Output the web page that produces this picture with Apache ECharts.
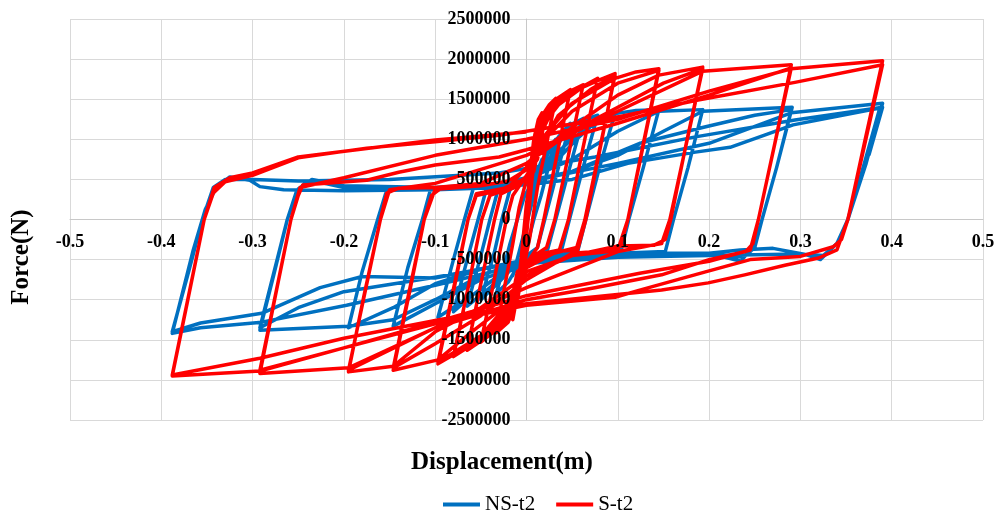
<!DOCTYPE html>
<html>
<head>
<meta charset="utf-8">
<script src="https://cdn.jsdelivr.net/npm/echarts@6/dist/echarts.min.js"></script>
<style>
body{
	margin:0;
	background:#fff;
}
#chart{
	width:995px;
	height:512px;
}
</style>
</head>
<body>
<div id="chart"></div>
<script type="text/javascript">
// axis ranges
var xMin = -0.5, xMax = 0.5, xStep = 0.1;
var yMin = -2500000, yMax = 2500000, yStep = 500000;
var seriesNames = ['NS-t2', 'S-t2'];

// NS-t2 hysteresis, [displacement m, force N]
var nsT2 = [
	[0,0],[0.004,300000],[0.01,550000],[0.017,750000],
	[0.01,450000],[0.003,100000],[-0.004,-250000],[-0.01,-500000],[-0.015,-700000],
	[-0.008,-400000],[0,-50000],[0.007,250000],[0.014,550000],[0.02,800000],
	[0.032,1000000],
	[0.024,650000],[0.016,300000],[0.008,0],[0,-350000],[-0.008,-550000],[-0.02,-780000],[-0.033,-920000],
	[-0.025,-600000],[-0.018,-300000],[-0.01,0],[-0.002,300000],[0.008,480000],[0.02,750000],[0.035,1030000],
	[0.048,1200000],
	[0.035,650000],[0.02,0],[0.012,-350000],[0,-450000],[-0.015,-600000],[-0.03,-780000],[-0.05,-1000000],
	[-0.035,-400000],[-0.027,0],[-0.018,380000],[0,460000],[0.015,580000],[0.03,850000],[0.048,1180000],[0.062,1260000],
	[0.045,550000],[0.032,0],[0.023,-380000],[0,-480000],[-0.02,-620000],[-0.04,-850000],[-0.065,-1080000],
	[-0.05,-450000],[-0.04,0],[-0.031,380000],[-0.01,430000],[0.01,520000],[0.03,750000],[0.05,1050000],[0.065,1250000],[0.078,1300000],
	[0.062,650000],[0.047,0],[0.038,-400000],[0.01,-450000],[-0.015,-580000],[-0.04,-780000],[-0.06,-950000],[-0.08,-1150000],
	[-0.065,-500000],[-0.053,0],[-0.044,380000],[-0.02,420000],[0,480000],[0.03,700000],[0.055,1000000],[0.08,1260000],[0.097,1330000],
	[0.08,650000],[0.065,0],[0.056,-400000],[0.03,-450000],[0,-550000],[-0.03,-700000],[-0.06,-950000],[-0.097,-1220000],
	[-0.08,-500000],[-0.068,0],[-0.058,400000],[-0.03,450000],[0,520000],[0.02,700000],[0.05,1000000],[0.075,1200000],[0.097,1320000],
	[0.12,1360000],[0.145,1370000],
	[0.128,650000],[0.112,0],[0.103,-420000],[0.05,-450000],[0,-550000],[-0.05,-750000],[-0.1,-1050000],[-0.146,-1330000],
	[-0.13,-600000],[-0.114,0],[-0.105,380000],[-0.05,420000],[0,500000],[0.05,750000],[0.1,1100000],[0.145,1350000],
	[0.193,1370000],
	[0.177,650000],[0.161,0],[0.152,-400000],[0.1,-420000],[0,-500000],[-0.05,-620000],[-0.1,-800000],[-0.146,-1100000],[-0.195,-1350000],
	[-0.18,-650000],[-0.163,0],[-0.153,370000],[-0.1,380000],[0,480000],[0.05,600000],[0.1,800000],[0.15,1100000],[0.193,1350000],
	[0.291,1400000],
	[0.274,650000],[0.258,0],[0.25,-300000],[0.235,-520000],[0.2,-420000],[0.124,-420000],[0,-500000],[-0.05,-700000],[-0.1,-1000000],[-0.146,-1250000],[-0.195,-1330000],[-0.292,-1380000],
	[-0.277,-700000],[-0.262,0],[-0.252,350000],[-0.24,480000],[-0.225,460000],[-0.2,400000],[-0.1,380000],[0,450000],[0.05,600000],[0.124,950000],[0.194,1150000],[0.25,1300000],[0.29,1370000],
	[0.274,650000],[0.258,0],[0.25,-350000],[0.238,-470000],[0.2,-430000],[0.1,-440000],[0,-520000],[-0.1,-720000],[-0.2,-900000],[-0.25,-1100000],[-0.292,-1350000],
	[-0.262,0],[-0.25,380000],[-0.235,500000],[-0.2,420000],[-0.1,400000],[0,470000],[0.1,700000],[0.2,950000],[0.29,1330000],
	[0.39,1450000],
	[0.372,700000],[0.352,0],[0.34,-300000],[0.325,-450000],[0.3,-430000],[0.2,-450000],[0.1,-470000],[0,-550000],[-0.1,-820000],[-0.197,-1070000],[-0.29,-1280000],[-0.357,-1350000],[-0.388,-1420000],
	[-0.365,-380000],[-0.352,120000],[-0.34,400000],[-0.325,530000],[-0.303,490000],[-0.292,410000],[-0.266,370000],[-0.2,360000],[-0.1,370000],[-0.03,400000],[0.05,500000],[0.111,700000],[0.185,840000],[0.223,900000],[0.26,1050000],[0.292,1180000],[0.36,1330000],[0.387,1390000],
	[0.37,700000],[0.352,0],[0.34,-300000],[0.322,-500000],[0.307,-440000],[0.27,-360000],[0.234,-380000],[0.2,-420000],[0.124,-430000],[0,-500000],[-0.1,-730000],[-0.18,-710000],[-0.226,-850000],[-0.29,-1170000],[-0.357,-1290000],[-0.388,-1400000],
	[-0.37,-650000],[-0.355,0],[-0.343,400000],[-0.33,500000],[-0.3,500000],[-0.25,480000],[-0.15,500000],[-0.03,580000],[0.075,780000],[0.185,1030000],[0.294,1240000],[0.39,1400000],[0.375,800000]
];

// S-t2 hysteresis, [displacement m, force N]
var sT2 = [
	[0,0],[0.003,500000],[0.008,1000000],[0.013,1250000],[0.017,1330000],
	[0.008,800000],[0,200000],[-0.006,-500000],[-0.011,-1000000],[-0.015,-1250000],
	[-0.008,-800000],[0,-200000],[0.006,500000],[0.012,1000000],[0.018,1310000],
	[0.025,1430000],[0.032,1510000],
	[0.023,1000000],[0.012,400000],[0.004,-200000],[-0.003,-600000],[-0.01,-1000000],[-0.02,-1280000],[-0.033,-1410000],
	[-0.025,-900000],[-0.015,-300000],[-0.008,150000],[0,500000],[0.01,900000],[0.018,1250000],[0.03,1480000],
	[0.048,1620000],
	[0.035,900000],[0.019,0],[0.012,-350000],[0,-550000],[-0.008,-750000],[-0.015,-1080000],[-0.025,-1300000],[-0.05,-1530000],
	[-0.038,-900000],[-0.022,0],[-0.015,300000],[0,550000],[0.012,750000],[0.02,1250000],[0.032,1470000],[0.048,1600000],
	[0.062,1680000],
	[0.045,750000],[0.031,0],[0.022,-350000],[0.005,-480000],[-0.01,-650000],[-0.018,-1100000],[-0.035,-1400000],[-0.065,-1630000],
	[-0.05,-800000],[-0.035,0],[-0.028,320000],[-0.01,420000],[0.008,600000],[0.017,1100000],[0.03,1400000],[0.06,1650000],
	[0.078,1760000],
	[0.062,900000],[0.046,0],[0.036,-380000],[0.015,-430000],[-0.005,-600000],[-0.017,-1100000],[-0.04,-1420000],[-0.08,-1710000],
	[-0.063,-800000],[-0.049,0],[-0.04,300000],[-0.015,400000],[0.005,580000],[0.016,1150000],[0.035,1430000],[0.06,1640000],[0.08,1740000],
	[0.097,1820000],
	[0.08,850000],[0.065,0],[0.056,-380000],[0.03,-400000],[0,-550000],[-0.015,-1000000],[-0.04,-1380000],[-0.07,-1620000],[-0.097,-1800000],
	[-0.08,-900000],[-0.064,0],[-0.055,300000],[-0.03,360000],[0,520000],[0.015,900000],[0.035,1300000],[0.07,1620000],[0.097,1800000],
	[0.064,0],[0.055,-350000],[0.03,-420000],[0,-600000],[-0.02,-1050000],[-0.05,-1450000],[-0.097,-1780000],
	[-0.064,0],[-0.055,320000],[-0.02,400000],[0,650000],[0.02,1050000],[0.05,1450000],[0.097,1760000],
	[0.12,1840000],[0.145,1880000],
	[0.128,950000],[0.111,0],[0.103,-330000],[0.09,-400000],[0.05,-450000],[0,-650000],[-0.02,-1050000],[-0.06,-1400000],[-0.097,-1750000],[-0.146,-1880000],
	[-0.128,-900000],[-0.112,0],[-0.104,300000],[-0.095,380000],[-0.05,420000],[-0.02,480000],[0,620000],[0.02,1000000],[0.05,1350000],[0.1,1700000],[0.145,1860000],
	[0.111,0],[0.1,-380000],[0.05,-420000],[0,-750000],[-0.05,-1200000],[-0.1,-1550000],[-0.146,-1850000],
	[-0.112,0],[-0.1,380000],[-0.05,450000],[0,700000],[0.05,1150000],[0.1,1550000],[0.145,1800000],
	[0.193,1900000],
	[0.175,950000],[0.158,0],[0.152,-250000],[0.14,-320000],[0.1,-330000],[0.05,-450000],[0,-700000],[-0.05,-1100000],[-0.1,-1400000],[-0.146,-1830000],[-0.195,-1900000],
	[-0.178,-950000],[-0.16,0],[-0.153,330000],[-0.14,390000],[-0.1,400000],[-0.05,450000],[0,700000],[0.05,1100000],[0.1,1400000],[0.15,1700000],[0.193,1880000],
	[0.157,0],[0.148,-300000],[0.1,-400000],[0,-850000],[-0.1,-1350000],[-0.195,-1880000],
	[-0.16,0],[-0.15,370000],[-0.1,450000],[0,800000],[0.1,1350000],[0.193,1850000],
	[0.29,1930000],
	[0.272,950000],[0.254,0],[0.248,-300000],[0.24,-400000],[0.2,-500000],[0.148,-690000],[0.075,-850000],[0,-1000000],[-0.1,-1350000],[-0.195,-1850000],[-0.292,-1920000],
	[-0.275,-950000],[-0.258,0],[-0.25,300000],[-0.245,430000],[-0.175,490000],[-0.14,590000],[-0.1,680000],[-0.03,780000],[0,870000],[0.1,1200000],[0.2,1550000],[0.29,1890000],
	[0.254,0],[0.245,-380000],[0.2,-520000],[0.124,-670000],[0,-950000],[-0.1,-1280000],[-0.2,-1600000],[-0.292,-1880000],
	[-0.258,0],[-0.248,400000],[-0.2,520000],[-0.1,800000],[0,1000000],[0.1,1250000],[0.2,1600000],[0.29,1880000],
	[0.39,1980000],
	[0.37,950000],[0.352,0],[0.345,-250000],[0.336,-340000],[0.3,-460000],[0.245,-500000],[0.197,-650000],[0.124,-880000],[0.097,-970000],[0,-1070000],[-0.1,-1300000],[-0.2,-1600000],[-0.292,-1890000],[-0.388,-1950000],
	[-0.37,-950000],[-0.353,0],[-0.343,330000],[-0.33,470000],[-0.3,550000],[-0.25,770000],[-0.175,890000],[-0.1,970000],[-0.03,1050000],[0,1100000],[0.1,1280000],[0.188,1490000],[0.294,1710000],[0.39,1930000],
	[0.352,0],[0.34,-380000],[0.32,-480000],[0.283,-570000],[0.239,-690000],[0.199,-790000],[0.148,-880000],[0,-1050000],[-0.1,-1260000],[-0.2,-1480000],[-0.292,-1730000],[-0.388,-1940000],
	[-0.353,0],[-0.342,400000],[-0.325,520000],[-0.3,580000],[-0.25,780000],[-0.1,990000],[0,1090000]
];

var serif = '"Liberation Serif", "DejaVu Serif", serif';

// plot box in px; axes are shifted onto the zero lines with offset
var plotLeft = 70, plotTop = 19, plotW = 913, plotH = 401;

var labelStyle = {
	fontFamily: serif,
	fontSize: 18,
	fontWeight: 'bold',
	color: '#000'
};

// axis 0 = grid lines under the curves, axis 1 = tick labels drawn over them
function makeX (withLabels) {
	return {
		type: 'value',
		min: xMin,
		max: xMax,
		interval: xStep,
		position: 'bottom',
		offset: -plotH / 2,
		z: withLabels ? 10 : 0,
		axisLine: { show: !withLabels, onZero: false, lineStyle: { color: '#c8c8c8', width: 1 } },
		axisTick: { show: false },
		splitLine: { show: !withLabels, lineStyle: { color: '#d9d9d9', width: 1 } },
		axisLabel: Object.assign({
			show: withLabels,
			margin: 14,
			formatter: function (v) { return String(parseFloat(v.toFixed(2))); }
		}, labelStyle)
	};
}

function makeY (withLabels) {
	return {
		type: 'value',
		min: yMin,
		max: yMax,
		interval: yStep,
		position: 'left',
		offset: -plotW / 2,
		z: withLabels ? 10 : 0,
		axisLine: { show: !withLabels, onZero: false, lineStyle: { color: '#c8c8c8', width: 1 } },
		axisTick: { show: false },
		splitLine: { show: !withLabels, lineStyle: { color: '#d9d9d9', width: 1 } },
		axisLabel: Object.assign({
			show: withLabels,
			margin: 16,
			formatter: function (v) { return String(v); }
		}, labelStyle)
	};
}

var chart = echarts.init(document.getElementById('chart'));
chart.setOption({
	animation: false,
	backgroundColor: '#fff',
	grid: {
		left: plotLeft,
		top: plotTop,
		width: plotW,
		height: plotH,
		containLabel: false,
		outerBoundsMode: 'none'
	},
	legend: {
		data: seriesNames,
		left: 443,
		top: 494,
		padding: 0,
		itemWidth: 37,
		itemHeight: 4,
		itemGap: 21,
		icon: 'rect',
		textStyle: {
			fontFamily: serif,
			fontSize: 21,
			color: '#000'
		}
	},
	xAxis: [makeX(false), makeX(true)],
	yAxis: [makeY(false), makeY(true)],
	graphic: [
		{
			type: 'text',
			x: 22,
			y: 257,
			rotation: Math.PI / 2,
			style: {
				text: 'Force(N)',
				font: 'bold 25px ' + serif,
				fill: '#000',
				align: 'center',
				verticalAlign: 'middle'
			}
		},
		{
			type: 'text',
			x: 502,
			y: 463,
			style: {
				text: 'Displacement(m)',
				font: 'bold 25px ' + serif,
				fill: '#000',
				align: 'center',
				verticalAlign: 'middle'
			}
		}
	],
	series: [
		{
			name: seriesNames[0],
			type: 'line',
			xAxisIndex: 0,
			yAxisIndex: 0,
			data: nsT2,
			showSymbol: false,
			color: '#0070C0',
			lineStyle: { width: 3.5, color: '#0070C0', join: 'round' }
		},
		{
			name: seriesNames[1],
			type: 'line',
			xAxisIndex: 0,
			yAxisIndex: 0,
			data: sT2,
			showSymbol: false,
			color: '#FF0000',
			lineStyle: { width: 3.5, color: '#FF0000', join: 'round' }
		}
	]
});
</script>
</body>
</html>
